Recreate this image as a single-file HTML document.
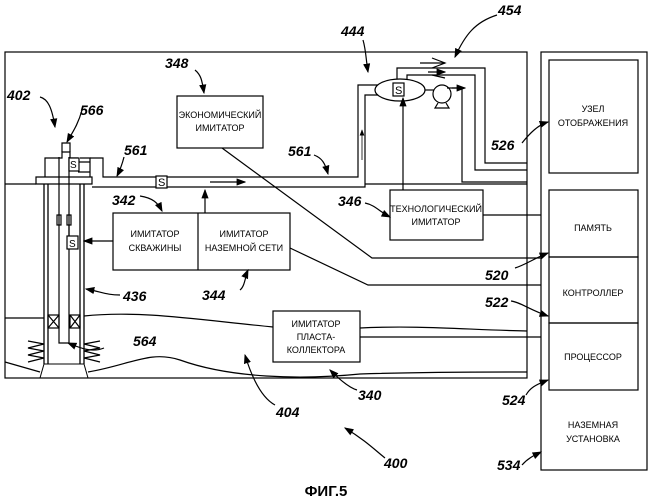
<!DOCTYPE html>
<html><head><meta charset="utf-8"><style>
html,body{margin:0;padding:0;background:#fff}
svg{display:block}
text{font-family:"Liberation Sans",sans-serif;fill:#000}
.s{font-size:9px;text-anchor:middle}
.n{font-size:14px;font-style:italic;font-weight:bold}
</style></head><body>
<svg width="652" height="500" viewBox="0 0 652 500" xmlns="http://www.w3.org/2000/svg" fill="none" stroke="#000" stroke-width="1.2">
<defs><marker id="a" markerWidth="8" markerHeight="6" refX="7" refY="3" orient="auto"><path d="M0,0L8,3L0,6z" fill="#000" stroke="none"/></marker></defs>
<rect x="5" y="52" width="522" height="326"/>
<rect x="541" y="52" width="106" height="418"/>
<rect x="549" y="60" width="89" height="113"/>
<rect x="549" y="190" width="89" height="67"/>
<rect x="549" y="257" width="89" height="66"/>
<rect x="549" y="323" width="89" height="67"/>
<rect x="177" y="96" width="86" height="52"/>
<rect x="390" y="190" width="93" height="50"/>
<rect x="113" y="213" width="177" height="57"/>
<line x1="198" y1="213" x2="198" y2="270"/>
<rect x="273" y="311" width="87" height="51"/>
<path d="M5,184H36"/>
<!-- pipelines -->
<path d="M92,187H365V95H378"/>
<path d="M90,158H103V177H358V85H378"/>
<ellipse cx="400" cy="90" rx="25" ry="11"/>
<rect x="393" y="83" width="11" height="13"/>
<text x="395" y="94" style="font-size:11px" stroke="none">S</text>
<path d="M397,79V68H485V163H527"/>
<path d="M407,79V75H475V170H527"/>
<path d="M425,90H434"/>
<circle cx="442" cy="94" r="9"/>
<path d="M438,103L435,108H449L446,103"/>
<path d="M447,88H462V182H527"/>
<path d="M365,184H527"/>
<path d="M432,58L445,63L432,68"/><path d="M420,63H445"/>
<path d="M432,75L445,78"/>
<line x1="428" y1="72" x2="445" y2="72" marker-end="url(#a)"/>
<line x1="452" y1="88" x2="465" y2="88" marker-end="url(#a)"/>
<line x1="210" y1="182" x2="245" y2="182" marker-end="url(#a)"/>
<line x1="362" y1="160" x2="362" y2="130" stroke-width="0.8" marker-end="url(#a)"/>
<rect x="156" y="176" width="11" height="12" fill="#fff"/>
<text x="158" y="186" style="font-size:11px" stroke="none">S</text>
<line x1="403" y1="190" x2="403" y2="98" marker-end="url(#a)"/>
<line x1="205" y1="213" x2="205" y2="190" marker-end="url(#a)"/>
<line x1="113" y1="241" x2="84" y2="241" marker-end="url(#a)"/>
<path d="M222,148L372,258H541"/>
<path d="M290,248L368,285H541"/>
<path d="M483,215H541"/>
<path d="M360,328C420,325 470,330 527,331"/>
<path d="M360,337H541"/>
<path d="M5,318H44"/>
<path d="M84,316C140,310 200,320 273,327"/>
<path d="M5,362L40,372"/>
<path d="M88,372C130,365 150,350 180,360C230,378 300,380 360,374C420,372 480,372 527,372"/>
<!-- well -->
<path d="M44,184V364M48,184V364M84,184V364M80,184V364" stroke-width="1.3"/>
<path d="M59,157V343H69V157"/>
<rect x="48" y="315" width="11" height="13"/><path d="M48,315L59,328M59,315L48,328"/>
<rect x="70" y="315" width="10" height="13"/><path d="M70,315L80,328M80,315L70,328"/>
<rect x="57" y="215" width="4" height="10"/><rect x="67" y="215" width="4" height="10"/>
<path d="M69,225V236"/>
<rect x="67" y="236" width="11" height="13" fill="#fff"/>
<text x="69" y="247" style="font-size:10px" stroke="none">S</text>
<path d="M40,378L44,364H84L88,378z" stroke-width="1"/>
<path d="M28,341L44,344L28,348L44,351L28,355L44,358L28,362 M100,341L84,344L100,348L84,351L100,355L84,358L100,362"/>
<!-- wellhead -->
<path d="M36,177H92V184H36z"/>
<path d="M45,177V158H62V152H70V158H78 M80,158H90V177"/>
<path d="M62,152V143H70V152"/>
<path d="M78,162H90M78,172H90"/>
<rect x="69" y="158" width="10" height="13" fill="#fff"/>
<text x="70" y="168" style="font-size:10px" stroke="none">S</text>
<!-- leaders -->
<path d="M40,97C48,99 52,108 55,127" marker-end="url(#a)"/>
<path d="M82,110C78,125 72,133 67,142" marker-end="url(#a)"/>
<path d="M195,70C201,75 202,80 204,93" marker-end="url(#a)"/>
<path d="M124,157C122,165 120,170 117,176" marker-end="url(#a)"/>
<path d="M314,155C322,158 325,163 328,174" marker-end="url(#a)"/>
<path d="M363,40C366,50 366,60 368,72" marker-end="url(#a)"/>
<path d="M497,15C475,22 465,35 455,57" marker-end="url(#a)"/>
<path d="M522,143C530,133 538,125 548,122" marker-end="url(#a)"/>
<path d="M365,203C375,205 380,212 390,217" marker-end="url(#a)"/>
<path d="M140,196C153,198 158,203 162,211" marker-end="url(#a)"/>
<path d="M240,290C245,286 245,277 248,270" marker-end="url(#a)"/>
<path d="M120,295C107,295 102,292 86,289" marker-end="url(#a)"/>
<path d="M104,348C92,353 80,348 68,343" marker-end="url(#a)"/>
<path d="M275,405C262,398 252,378 245,355" marker-end="url(#a)"/>
<path d="M357,390C350,388 342,382 330,370" marker-end="url(#a)"/>
<path d="M385,458C375,450 365,440 345,428" marker-end="url(#a)"/>
<path d="M515,268C525,265 535,258 548,253" marker-end="url(#a)"/>
<path d="M511,301C520,302 530,310 548,316" marker-end="url(#a)"/>
<path d="M526,395C530,388 535,385 548,380" marker-end="url(#a)"/>
<path d="M522,465C528,458 535,455 541,452" marker-end="url(#a)"/>
<g stroke="none">
<text class="s" x="220" y="118">ЭКОНОМИЧЕСКИЙ</text><text class="s" x="220" y="131">ИМИТАТОР</text>
<text class="s" x="436" y="212">ТЕХНОЛОГИЧЕСКИЙ</text><text class="s" x="436" y="225">ИМИТАТОР</text>
<text class="s" x="155" y="237">ИМИТАТОР</text><text class="s" x="155" y="251">СКВАЖИНЫ</text>
<text class="s" x="244" y="237">ИМИТАТОР</text><text class="s" x="244" y="251">НАЗЕМНОЙ СЕТИ</text>
<text class="s" x="316" y="327">ИМИТАТОР</text><text class="s" x="316" y="340">ПЛАСТА-</text><text class="s" x="316" y="353">КОЛЛЕКТОРА</text>
<text class="s" x="593" y="112">УЗЕЛ</text><text class="s" x="593" y="126">ОТОБРАЖЕНИЯ</text>
<text class="s" x="593" y="231">ПАМЯТЬ</text>
<text class="s" x="593" y="296">КОНТРОЛЛЕР</text>
<text class="s" x="593" y="360">ПРОЦЕССОР</text>
<text class="s" x="593" y="428">НАЗЕМНАЯ</text><text class="s" x="593" y="442">УСТАНОВКА</text>
<text class="n" x="7" y="100">402</text>
<text class="n" x="80" y="115">566</text>
<text class="n" x="165" y="68">348</text>
<text class="n" x="124" y="155">561</text>
<text class="n" x="288" y="156">561</text>
<text class="n" x="341" y="36">444</text>
<text class="n" x="498" y="15">454</text>
<text class="n" x="491" y="150">526</text>
<text class="n" x="338" y="206">346</text>
<text class="n" x="112" y="205">342</text>
<text class="n" x="202" y="300">344</text>
<text class="n" x="123" y="301">436</text>
<text class="n" x="133" y="346">564</text>
<text class="n" x="276" y="417">404</text>
<text class="n" x="358" y="400">340</text>
<text class="n" x="384" y="468">400</text>
<text class="n" x="485" y="280">520</text>
<text class="n" x="485" y="307">522</text>
<text class="n" x="502" y="405">524</text>
<text class="n" x="497" y="470">534</text>
<text x="326" y="496" style="font-size:15px;font-weight:bold;text-anchor:middle">ФИГ.5</text>
</g>
</svg>
</body></html>
